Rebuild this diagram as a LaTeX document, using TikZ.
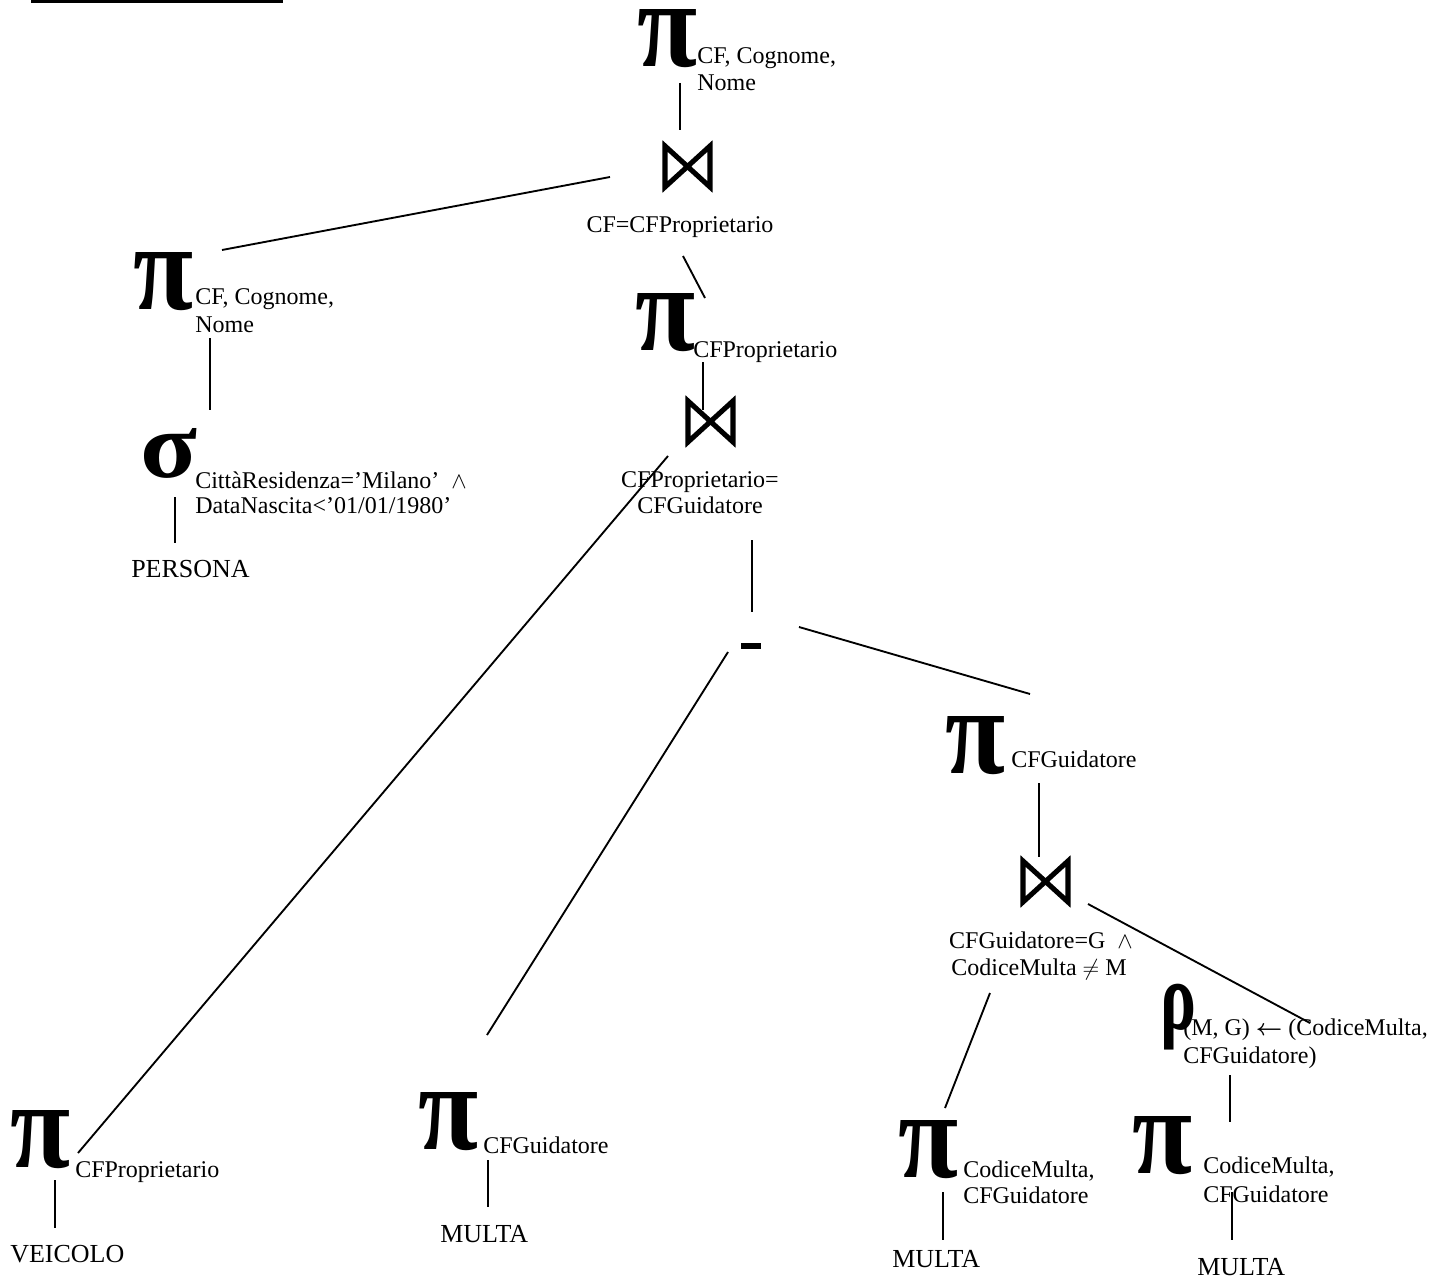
\documentclass[tikz,border=0pt]{standalone}
\usepackage{fontspec}
\setmainfont{Liberation Serif}
\usepackage{bm}
\usepackage{graphicx}
\newcommand\jointie[1]{\draw[tie] ([shift={(3,3)}]#1.north west) -- ([shift={(-3,-3)}]#1.south east) -- ([shift={(-3,3)}]#1.north east) -- ([shift={(3,-3)}]#1.south west) -- cycle;}
\newcommand\bigpi{\resizebox{45pt}{42.75pt}{\bfseries π}}
\begin{document}
\begin{tikzpicture}[x=0.75pt,y=-0.75pt,
  lbl/.style={inner sep=0pt, anchor=base west, font=\fontsize{18}{21}\selectfont},
  clbl/.style={inner sep=0pt, anchor=base, font=\fontsize{18}{21}\selectfont},
  rel/.style={inner sep=0pt, anchor=base west, font=\fontsize{19.5}{23}\selectfont},
  sym/.style={inner sep=0pt, outer sep=0pt, anchor=north west},
  joinbox/.style={inner sep=0pt, outer sep=0pt, anchor=north west, minimum width=38.25pt, minimum height=35.25pt},
  tie/.style={line width=3.8pt, line join=miter},
  conn/.style={line width=1.4pt},
  minusbar/.style={fill=black, inner sep=0pt, outer sep=0pt, anchor=north west, minimum width=15pt, minimum height=4.5pt}]
\useasboundingbox (0,0) rectangle (1435,1280);
% title underline (cut off)
\coordinate (ul1) at (31,1.3);
\coordinate (ul2) at (283,1.3);
\draw[line width=2pt] (ul1) -- (ul2);

% top projection
\node[sym] (p1) at (637,10) {\bigpi};
\node[lbl] (p1a) at (697,64) {CF, Cognome,};
\node[lbl] (p1b) at (697,91) {Nome};
% join 1
\node[joinbox] (j1) at (662,143) {};
\jointie{j1}
\node[clbl] (j1a) at (680,233) {CF=CFProprietario};
% left projection
\node[sym] (p2) at (133,253) {\bigpi};
\node[lbl] (p2a) at (195,305) {CF, Cognome,};
\node[lbl] (p2b) at (195,332) {Nome};
% selection
\node[sym] (s1) at (140,428) {\resizebox{42.75pt}{36.75pt}{\bfseries σ}};
\node[lbl] (s1a) at (195,488) {CittàResidenza=’Milano’ \ $\wedge$};
\node[lbl] (s1b) at (195,513) {DataNascita<’01/01/1980’};
\node[rel] (r1) at (131,577) {PERSONA};
% projection CFProprietario
\node[sym] (p3) at (635,293) {\bigpi};
\node[lbl] (p3a) at (693,358) {CFProprietario};
% join 2
\node[joinbox] (j2) at (685,398) {};
\jointie{j2}
\node[clbl] (j2a) at (700,487) {CFProprietario=};
\node[clbl] (j2b) at (700,513) {CFGuidatore};
% difference
\node[minusbar] (m1) at (741,643) {};
% VEICOLO branch
\node[sym] (p4) at (10,1110) {\bigpi};
\node[lbl] (p4a) at (75,1177) {CFProprietario};
\node[rel] (r2) at (10,1262) {VEICOLO};
% MULTA middle branch
\node[sym] (p5) at (418,1092) {\bigpi};
\node[lbl] (p5a) at (483,1153) {CFGuidatore};
\node[rel] (r3) at (440,1242) {MULTA};
% right projection CFGuidatore
\node[sym] (p6) at (945,716) {\bigpi};
\node[lbl] (p6a) at (1011,767) {CFGuidatore};
% join 3
\node[joinbox] (j3) at (1020,858) {};
\jointie{j3}
\node[clbl] (j3a) at (1041,948) {CFGuidatore=G \ $\wedge$};
\node[clbl] (j3b) at (1039,975) {CodiceMulta $\neq$ M};
% rename
\node[sym] (rh) at (1160,984) {\resizebox{27pt}{34pt}{\bfseries ρ}};
\node[lbl] (rha) at (1183,1035) {(M, G) $\bm{\leftarrow}$ (CodiceMulta,};
\node[lbl] (rhb) at (1183,1063) {CFGuidatore)};
% bottom projections
\node[sym] (p7) at (898,1120) {\bigpi};
\node[lbl] (p7a) at (963,1177) {CodiceMulta,};
\node[lbl] (p7b) at (963,1203) {CFGuidatore};
\node[rel] (r4) at (892,1267) {MULTA};
\node[sym] (p8) at (1132,1116) {\bigpi};
\node[lbl] (p8a) at (1203,1173) {CodiceMulta,};
\node[lbl] (p8b) at (1203,1202) {CFGuidatore};
\node[rel] (r5) at (1197,1275) {MULTA};

% connector end points
\coordinate (c1a) at (680,83);   \coordinate (c1b) at (680,130);
\coordinate (c2a) at (610,177);  \coordinate (c2b) at (222,250);
\coordinate (c3a) at (683,256);  \coordinate (c3b) at (705,298);
\coordinate (c4a) at (210,338);  \coordinate (c4b) at (210,410);
\coordinate (c5a) at (175,497);  \coordinate (c5b) at (175,543);
\coordinate (c6a) at (703,362);  \coordinate (c6b) at (703,410);
\coordinate (c7a) at (668,456);  \coordinate (c7b) at (78,1153);
\coordinate (c8a) at (752,540);  \coordinate (c8b) at (752,612);
\coordinate (c9a) at (728,652);  \coordinate (c9b) at (487,1035);
\coordinate (c10a) at (799,627); \coordinate (c10b) at (1030,694);
\coordinate (c11a) at (1039,783); \coordinate (c11b) at (1039,857);
\coordinate (c12a) at (1088,904); \coordinate (c12b) at (1310,1023);
\coordinate (c13a) at (990,993); \coordinate (c13b) at (945,1108);
\coordinate (c14a) at (1230,1075); \coordinate (c14b) at (1230,1122);
\coordinate (c15a) at (943,1192); \coordinate (c15b) at (943,1240);
\coordinate (c16a) at (1232,1192); \coordinate (c16b) at (1232,1240);
\coordinate (c17a) at (55,1180); \coordinate (c17b) at (55,1228);
\coordinate (c18a) at (488,1160); \coordinate (c18b) at (488,1207);

\foreach \i in {1,...,18} {\draw[conn] (c\i a) -- (c\i b);}
\end{tikzpicture}
\end{document}
